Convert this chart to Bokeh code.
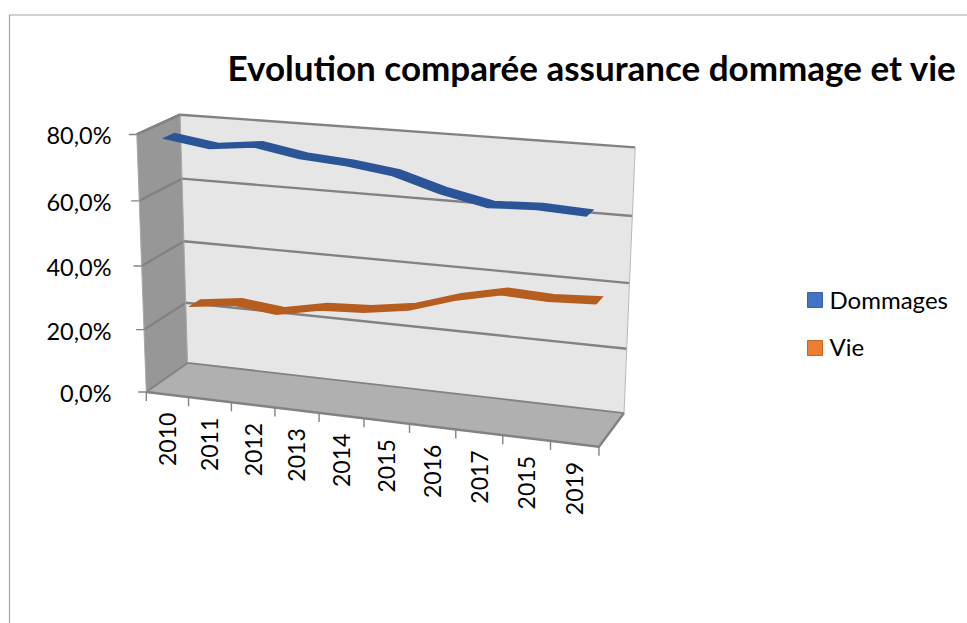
import numpy as np
from bokeh.plotting import figure
from bokeh.models import Range1d
from bokeh.core.properties import value
from bokeh.embed import file_html
from bokeh.resources import INLINE

TITLE = "Evolution comparée assurance dommage et vie"
YEARS = ["2010","2011","2012","2013","2014","2015","2016","2017","2015","2019"]
DOMMAGES = [78.5,76.5,78.0,75.6,74.6,72.8,68.7,65.8,66.4,65.7]
VIE = [22.7,24.5,23.0,25.8,26.5,28.6,33.0,36.1,35.5,36.2]
YTICKS = [0,20,40,60,80]
YTICKLABELS = ["0,0%","20,0%","40,0%","60,0%","80,0%"]

# calibration of projection: (t, v/80, depth) -> screen
corners = [((0,0,0),(146,390)),((0,1,0),(136,131)),((1,0,0),(600,445)),((1,1,0),(610,176)),
           ((0,0,1),(187,364)),((0,1,1),(180,114)),((1,0,1),(624,413)),((1,1,1),(634,144)),
           ((0,.75,1),(182,179)),((0,.5,1),(183,242)),((0,.25,1),(186,303)),
           ((1,.75,1),(631,214)),((1,.5,1),(629,282)),((1,.25,1),(626,348))]
tickx = [146,188,231,274,318,363,408,455,502,550,599]
A=[];B=[]
for (X,(sx,sy)) in corners:
    X=list(X)
    A.append(X+[1]+[0,0,0,0]+[-sx*c for c in X]); B.append(sx)
    A.append([0,0,0,0]+X+[1]+[-sy*c for c in X]); B.append(sy)
for i,sx in enumerate(tickx):
    X=[i/10,0,0]
    A.append(X+[1]+[0,0,0,0]+[-sx*c for c in X]); B.append(sx)
H=np.linalg.lstsq(np.array(A,float),np.array(B,float),rcond=None)[0]
H=np.append(H,1.0).reshape(3,4)
def P(t,v,d):
    w=H@np.array([t,v/80,d,1.0])
    return w[0]/w[2],w[1]/w[2]

p=figure(width=967,height=623,x_range=Range1d(0,967),y_range=Range1d(623,0),
         toolbar_location=None,output_backend="svg",min_border=0,outline_line_color=None)
p.axis.visible=False
p.grid.visible=False

p.line([9,9,967],[623,14.5,14.5],line_color="#a3a3a3",line_width=1.2)

def poly(pts,**k):
    p.patch([q[0] for q in pts],[q[1] for q in pts],**k)
poly([P(0,0,1),P(0,80,1),P(1,80,1),P(1,0,1)],fill_color="#e6e6e6",line_color=None)
poly([P(0,0,0),P(0,80,0),P(0,80,1),P(0,0,1)],fill_color="#979797",line_color=None)
poly([P(0,0,0),P(0,0,1),P(1,0,1),P(1,0,0)],fill_color="#b0b0b0",line_color=None)
G="#828282"
for v in YTICKS:
    pts=[P(0,v,0),P(0,v,1),P(1,v,1)]
    p.line([q[0] for q in pts],[q[1] for q in pts],line_color=G,line_width=2.4 if v else 1.8)
    a=P(0,v,0)
    p.line([a[0]-8,a[0]],[a[1],a[1]],line_color=G,line_width=1.4)
for pts,w,c in [([P(0,0,0),P(0,80,0)],1,"#a8a8a8"),([P(0,0,1),P(0,80,1)],1,"#a8a8a8"),
              ([P(1,0,1),P(1,80,1)],1,"#b8b8b8"),([P(0,0,0),P(1,0,0),P(1,0,1)],2.4,G),([P(0,80,0),P(0,80,1)],2.4,G)]:
    p.line([q[0] for q in pts],[q[1] for q in pts],line_color=c,line_width=w)
for i in range(11):
    a=P(i/10,0,0)
    p.line([a[0],a[0]],[a[1],a[1]+9],line_color=G,line_width=1.4)

def ribbon(vals,d0,d1,t0,t1,col):
    ts=[t0+i*(t1-t0)/9 for i in range(len(vals))]
    front=[P(t,v,d0) for t,v in zip(ts,vals)]
    back=[P(t,v,d1) for t,v in zip(ts,vals)]
    poly(front+back[::-1],fill_color=col,line_color=col,line_width=2,line_join="miter")
ribbon(VIE,.64,.86,.05,.95,"#b65d20")
ribbon(DOMMAGES,.14,.36,.05,.95,"#2c5598")

F=value("Lato")
for v,l in zip(YTICKS,YTICKLABELS):
    a=P(0,v,0)
    p.text([111],[a[1]+1],text=[l],text_font=F,text_font_size="23.5px",text_align="right",text_baseline="middle",text_color="#000000")
for i,y in enumerate(YEARS):
    a=P((i+.5)/10,0,0)
    p.text([a[0]],[a[1]+18],text=[y],text_font=F,text_font_size="23px",angle=np.pi/2,text_align="right",text_baseline="middle",text_color="#000000")
p.text([227],[66],text=[TITLE],text_font=F,text_font_size="35px",text_font_style="bold",text_baseline="middle",text_color="#000000")
p.quad(left=[807],right=[822],top=[292],bottom=[307],fill_color="#4472c4",line_color="#3a62a8")
p.quad(left=[807],right=[822],top=[340],bottom=[355],fill_color="#ed7d31",line_color="#c2672a")
p.text([829],[299],text=["Dommages"],text_font=F,text_font_size="24px",text_baseline="middle")
p.text([829],[346],text=["Vie"],text_font=F,text_font_size="24px",text_baseline="middle")
open("out.html","w").write(file_html(p,INLINE))
